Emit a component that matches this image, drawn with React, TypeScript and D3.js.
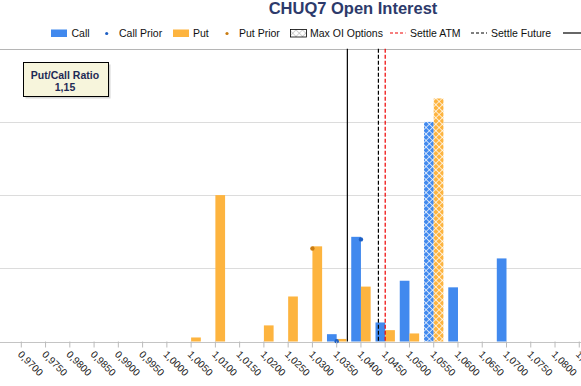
import React from 'react';
import * as d3 from 'd3';

// ---- data ----
const strikes = [
  0.97, 0.975, 0.98, 0.985, 0.99, 0.995, 1.0, 1.005, 1.01, 1.015, 1.02, 1.025,
  1.03, 1.035, 1.04, 1.045, 1.05, 1.055, 1.06, 1.065, 1.07, 1.075, 1.08, 1.085,
];
const callOI = [0, 0, 0, 0, 0, 0, 0, 0, 0, 0, 0, 0, 0, 100, 1430, 260, 830, 3000, 740, 0, 1135, 0, 0, 0];
const putOI = [0, 0, 0, 0, 0, 0, 0, 55, 2000, 0, 220, 615, 1300, 35, 750, 155, 110, 3320, 0, 0, 0, 0, 0, 0];
const callPrior: (number | null)[] = [null, null, null, null, null, null, null, null, null, null, null, null, null, 5, 1395, null, null, null, null, null, null, null, null, null];
const putPrior: (number | null)[] = [null, null, null, null, null, null, null, null, null, null, null, null, 1270, null, null, null, null, null, null, null, null, null, null, null];
const maxOIStrike = 1.055;
const settleATM = 1.045;
const settleFuture = 1.0436;
const lastPrice = 1.0372;
const yTicks = [0, 1000, 2000, 3000, 4000];
const putCallRatio = '1,15';
const title = 'CHUQ7 Open Interest';

const W = 581;
const H = 386;
const BLUE = '#4189EE';
const ORANGE = '#FDB43F';
const BLUE_DARK = '#1D5FC4';
const ORANGE_DARK = '#C97C12';
const FONT = '"Liberation Sans", Arial, sans-serif';

const fmt = (v: number) => v.toFixed(4).replace('.', ',');

export default function App() {
  const labels = strikes.map(fmt);
  const step = 24.26;
  const x0 = 21.3 - step / 2;
  const x = d3.scaleBand<string>().domain(labels).range([x0, x0 + step * strikes.length]).padding(0);
  const x1 = d3
    .scaleBand<string>()
    .domain(['call', 'put'])
    .range([x.bandwidth() * 0.1, x.bandwidth() * 0.9]);
  const center = (i: number) => (x(labels[i]) as number) + x.bandwidth() / 2;
  const xLin = d3
    .scaleLinear()
    .domain([strikes[0], strikes[strikes.length - 1]])
    .range([center(0), center(strikes.length - 1)]);
  const y = d3.scaleLinear().domain([0, 4000]).range([341.5, 48.7]);
  const base = y(0);

  const bar = (series: 'call' | 'put', vals: number[], color: string, pat: string) =>
    vals.map((v, i) => {
      if (!v) return null;
      const isMax = Math.abs(strikes[i] - maxOIStrike) < 1e-9;
      return (
        <rect
          key={series + i}
          x={(x(labels[i]) as number) + (x1(series) as number)}
          y={y(v)}
          width={x1.bandwidth()}
          height={base - y(v)}
          fill={isMax ? `url(#${pat})` : color}
        />
      );
    });

  const vline = (v: number, color: string, dash?: string) => (
    <line
      x1={xLin(v)}
      x2={xLin(v)}
      y1={y(4000)}
      y2={base}
      stroke={color}
      strokeWidth={1.2}
      strokeDasharray={dash}
    />
  );

  return (
    <svg
      width={W}
      height={H}
      style={{ position: 'absolute', left: 0, top: 0, background: '#fff' }}
      fontFamily={FONT}
    >
      <defs>
        <pattern id="hatchBlue" width="4.6" height="4.6" patternUnits="userSpaceOnUse" patternTransform="rotate(45)">
          <rect width="4.6" height="4.6" fill={BLUE} />
          <line x1="0" y1="0" x2="4.6" y2="0" stroke="#fff" strokeWidth="1.4" />
          <line x1="0" y1="0" x2="0" y2="4.6" stroke="#fff" strokeWidth="1.4" />
        </pattern>
        <pattern id="hatchOrange" width="4.6" height="4.6" patternUnits="userSpaceOnUse" patternTransform="rotate(45)">
          <rect width="4.6" height="4.6" fill={ORANGE} />
          <line x1="0" y1="0" x2="4.6" y2="0" stroke="#fff" strokeWidth="1.4" />
          <line x1="0" y1="0" x2="0" y2="4.6" stroke="#fff" strokeWidth="1.4" />
        </pattern>
        <pattern id="hatchGray" width="4.6" height="4.6" patternUnits="userSpaceOnUse" patternTransform="rotate(45)">
          <rect width="4.6" height="4.6" fill="#fff" />
          <line x1="0" y1="0" x2="4.6" y2="0" stroke="#aaa" strokeWidth="1" />
          <line x1="0" y1="0" x2="0" y2="4.6" stroke="#aaa" strokeWidth="1" />
        </pattern>
      </defs>

      {/* title */}
      <text x={353} y={14} textAnchor="middle" fontSize={16.5} fontWeight="bold" fill="#2D3A6B">
        {title}
      </text>

      {/* legend */}
      <g fontSize={10.5} fill="#111">
        <rect x={51} y={29.5} width={16} height={7.5} fill={BLUE} />
        <text x={71.5} y={37}>Call</text>
        <circle cx={106.7} cy={33.5} r={1.6} fill={BLUE_DARK} />
        <text x={119} y={37}>Call Prior</text>
        <rect x={173} y={29.5} width={16} height={7.5} fill={ORANGE} />
        <text x={193} y={37}>Put</text>
        <circle cx={227} cy={33.5} r={1.6} fill={ORANGE_DARK} />
        <text x={239} y={37}>Put Prior</text>
        <rect x={290.5} y={29.5} width={16} height={7.5} fill="url(#hatchGray)" stroke="#000" strokeWidth={0.8} />
        <text x={310} y={37}>Max OI Options</text>
        <line x1={390} x2={405.5} y1={33} y2={33} stroke="#E00" strokeWidth={1.2} strokeDasharray="3,2" />
        <text x={410} y={37}>Settle ATM</text>
        <line x1={471} x2={487} y1={33} y2={33} stroke="#000" strokeWidth={1.2} strokeDasharray="3,2" />
        <text x={491} y={37}>Settle Future</text>
        <line x1={563} x2={581} y1={33} y2={33} stroke="#000" strokeWidth={1.2} />
      </g>

      {/* gridlines */}
      {yTicks.map((t) => (
        <line
          key={t}
          x1={0}
          x2={W}
          y1={Math.round(y(t)) + 0.5}
          y2={Math.round(y(t)) + 0.5}
          stroke={t === 4000 ? '#b5b5b5' : t === 0 ? '#c4c4c4' : '#dcdcdc'}
          strokeWidth={1}
        />
      ))}

      {/* bars */}
      {bar('call', callOI, BLUE, 'hatchBlue')}
      {bar('put', putOI, ORANGE, 'hatchOrange')}

      {/* prior dots */}
      {callPrior.map((v, i) =>
        v == null ? null : <circle key={'cp' + i} cx={center(i)} cy={y(v)} r={2.2} fill={BLUE_DARK} />
      )}
      {putPrior.map((v, i) =>
        v == null ? null : <circle key={'pp' + i} cx={center(i)} cy={y(v)} r={2.2} fill={ORANGE_DARK} />
      )}

      {/* vertical lines */}
      {vline(lastPrice, '#000')}
      {vline(settleFuture, '#000', '4,2')}
      {vline(settleATM, '#E00', '4,2')}

      {/* x axis ticks and labels */}
      {labels.map((l, i) => (
        <g key={l}>
          <line x1={center(i)} x2={center(i)} y1={base} y2={base + 6} stroke="#bbb" />
          <text
            transform={`translate(${center(i) - 4},${355}) rotate(45)`}
            fontSize={10}
            fill="#222"
          >
            {l}
          </text>
        </g>
      ))}

      {/* put/call ratio box */}
      <rect x={25.5} y={64.5} width={85} height={34} fill="#888" opacity={0.35} />
      <rect x={23.5} y={62.5} width={85} height={34} fill="#F7F5DC" stroke="#000" strokeWidth={1} />
      <text x={65} y={78.5} textAnchor="middle" fontSize={10.5} fontWeight="bold" fill="#1F2A55">
        Put/Call Ratio
      </text>
      <text x={65} y={90.5} textAnchor="middle" fontSize={10.5} fontWeight="bold" fill="#1F2A55">
        {putCallRatio}
      </text>
    </svg>
  );
}
